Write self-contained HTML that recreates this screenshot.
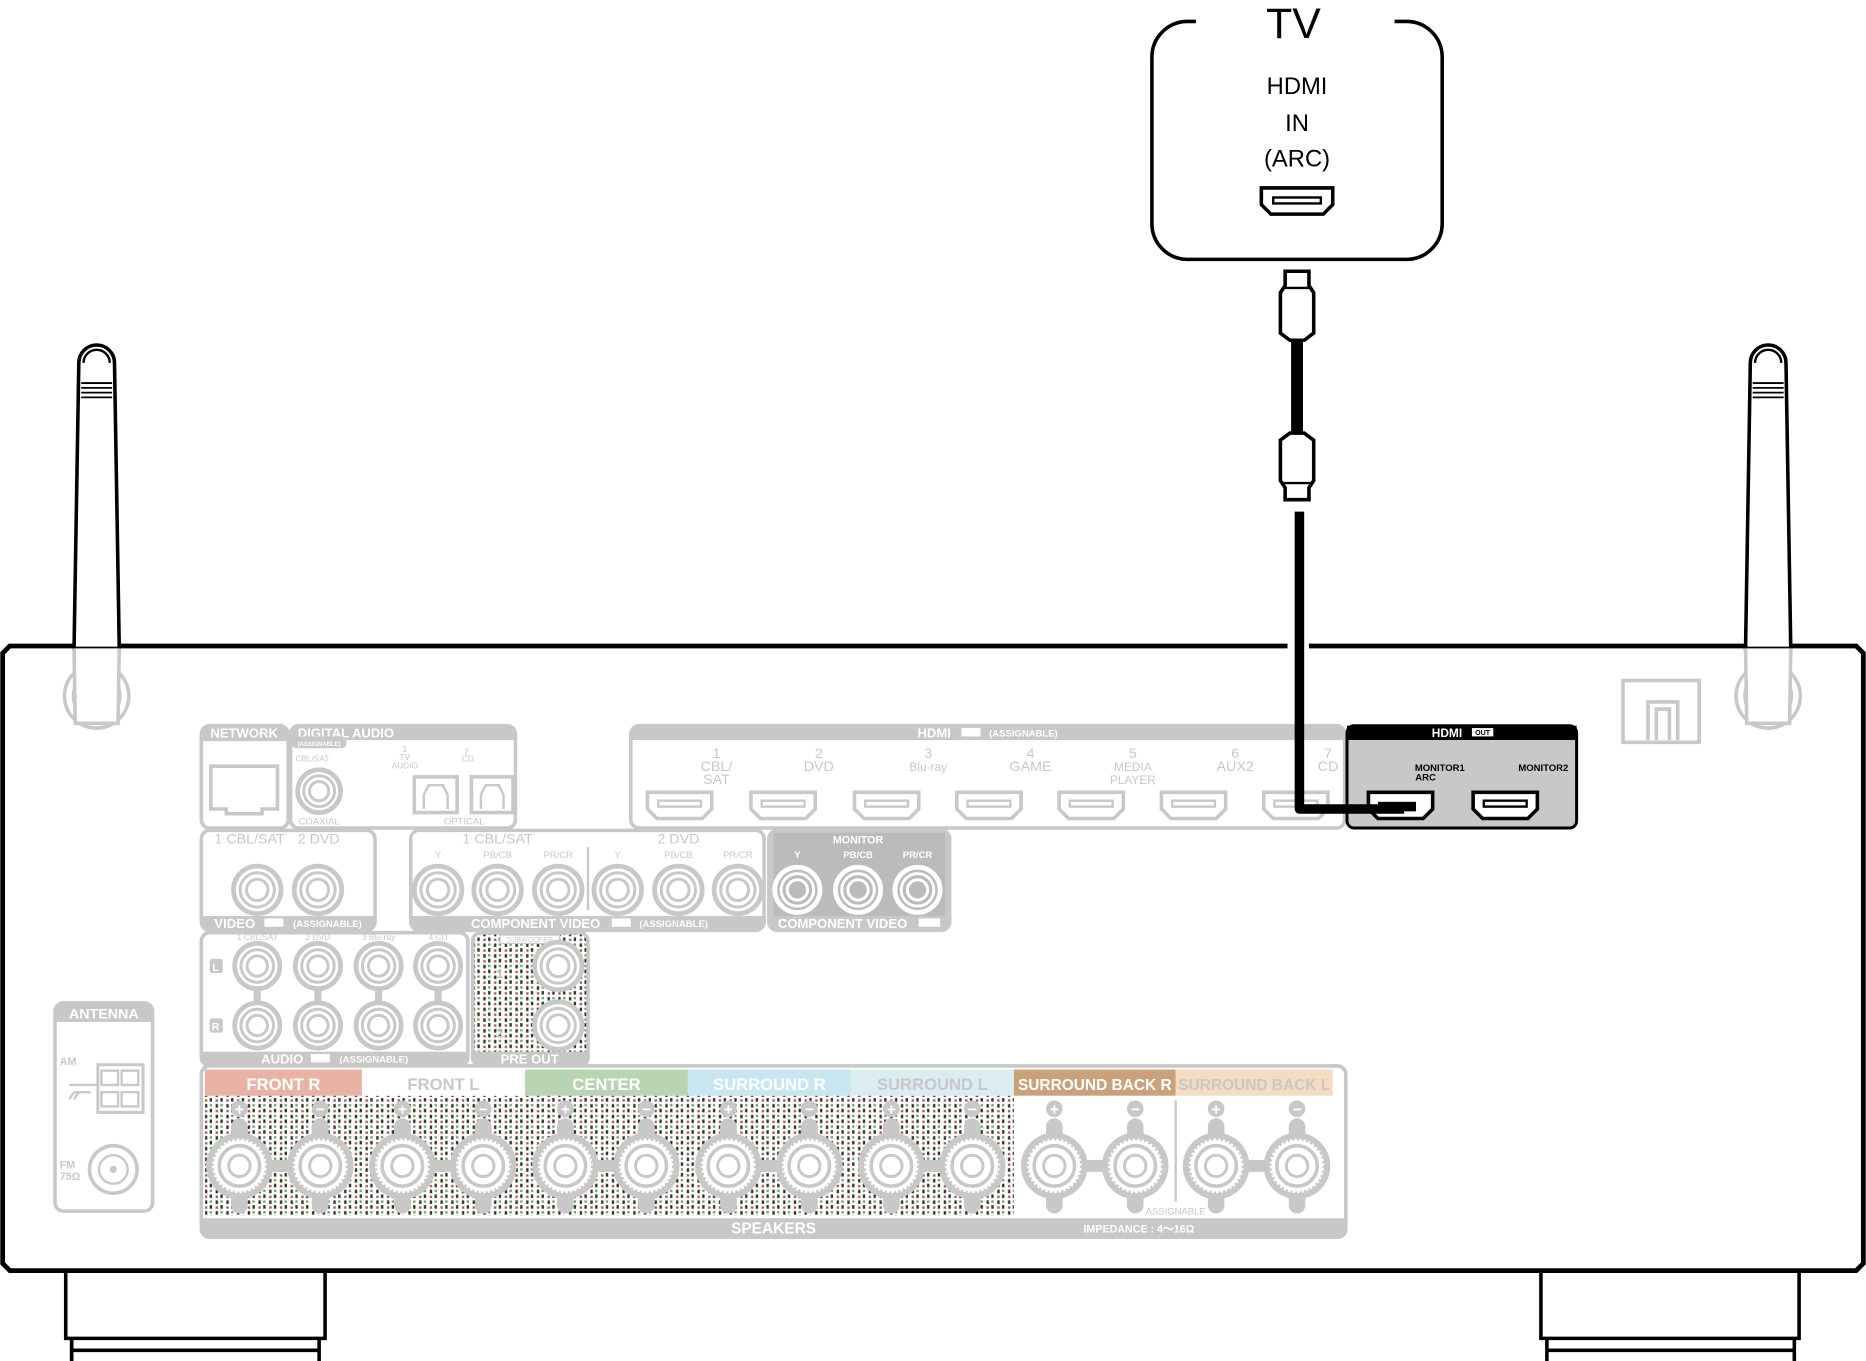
<!DOCTYPE html>
<html><head><meta charset="utf-8"><style>
html,body{margin:0;padding:0;background:#fff}
svg{display:block}
text{font-family:"Liberation Sans",sans-serif}
</style></head><body>
<svg id="s" width="1866" height="1361" viewBox="0 0 1568 1144" xmlns="http://www.w3.org/2000/svg">
<defs>
<pattern id="dots" width="9" height="9" patternUnits="userSpaceOnUse">
<rect width="9" height="9" fill="#fff"/>
<rect x="1" y="1" width="2" height="3" fill="#333"/>
<rect x="5" y="1" width="2" height="2" fill="#6a5"/>
<rect x="5" y="5" width="2" height="3" fill="#333"/>
<rect x="1" y="6" width="2" height="2" fill="#a55"/>
</pattern>
</defs>
<!-- TV -->
<path d="M1005,18 H998 A30,30 0 0 0 968,48 V188 A30,30 0 0 0 998,218 H1182 A30,30 0 0 0 1212,188 V48 A30,30 0 0 0 1182,18 H1172" fill="none" stroke="#000" stroke-width="3"/>
<text x="1087" y="32" font-size="36" text-anchor="middle">TV</text>
<text x="1090" y="79" font-size="20" text-anchor="middle">HDMI</text>
<text x="1090" y="110" font-size="20" text-anchor="middle">IN</text>
<text x="1090" y="140" font-size="20" text-anchor="middle">(ARC)</text>
<path d="M1060,158 H1120 V172 L1112,180 H1068 L1060,172 Z" fill="none" stroke="#000" stroke-width="3"/>
<rect x="1070" y="166" width="40" height="5" fill="none" stroke="#000" stroke-width="2"/>
<!-- cable -->
<path d="M1080,228 H1100 V240 L1104,246 V280 L1096,286 H1084 L1076,280 V246 L1080,240 Z" fill="#fff" stroke="#000" stroke-width="3"/>
<line x1="1078" y1="242" x2="1102" y2="242" stroke="#000" stroke-width="2"/>
<rect x="1085" y="286" width="10" height="80" fill="#000"/>
<path d="M1084,364 H1096 L1104,370 V404 L1100,410 V420 H1080 V410 L1076,404 V370 Z" fill="#fff" stroke="#000" stroke-width="3"/>
<line x1="1078" y1="406" x2="1102" y2="406" stroke="#000" stroke-width="2"/>
<!-- receiver body -->
<path d="M1082,543 H8 L2,549 V1062 L8,1068 H1560 L1566,1062 V549 L1560,543 H1100" fill="none" stroke="#000" stroke-width="4"/>
<path d="M55,1068 V1125 H60 V1144 M55,1125 H273 V1068 M60,1135 H268" fill="none" stroke="#000" stroke-width="3"/>
<path d="M1295,1068 V1125 H1512 V1068 M1300,1135 H1508 M1300,1125 V1144 M1508,1125 V1144" fill="none" stroke="#000" stroke-width="3"/>
<path d="M60,1125 V1144 M268,1125 V1144" stroke="#000" stroke-width="3"/>
<!-- antennas -->
<g id="ant">
<circle cx="81" cy="585" r="27" fill="none" stroke="#c8c8c8" stroke-width="3"/>
<circle cx="81" cy="585" r="20" fill="none" stroke="#c8c8c8" stroke-width="2"/>
<path d="M66,305 A15,15 0 0 1 96,305 L100,545 H62 Z" fill="#fff" stroke="#000" stroke-width="3"/>
<path d="M62,545 L63,608 H99 L100,545" fill="#fff" stroke="#c8c8c8" stroke-width="3"/>
<path d="M70,305 A11,11 0 0 1 92,305" fill="none" stroke="#000" stroke-width="2"/>
<g stroke="#000" stroke-width="1.5"><line x1="68" y1="322" x2="94" y2="322"/><line x1="68" y1="326" x2="94" y2="326"/><line x1="68" y1="330" x2="94" y2="330"/><line x1="68" y1="334" x2="94" y2="334"/></g>
</g>
<use href="#ant" transform="translate(1405,0)"/>
<rect x="1364" y="572" width="64" height="52" fill="none" stroke="#c8c8c8" stroke-width="3"/>
<path d="M1385,622 V590 H1410 V622 M1392,622 V596 H1403 V622" fill="none" stroke="#c8c8c8" stroke-width="3"/>
<g id="gen"></g>
<!-- HDMI out panel -->
<rect x="1132" y="610" width="193" height="86" rx="6" fill="#c8c8c8" stroke="#000" stroke-width="2.5"/>
<rect x="1132" y="610" width="193" height="12" fill="#000"/>
<text x="1216" y="619.5" font-size="10" font-weight="bold" fill="#fff" text-anchor="middle">HDMI</text>
<rect x="1237" y="612" width="18" height="7" fill="#fff"/><text x="1246" y="618" font-size="6" text-anchor="middle" font-weight="bold">OUT</text>
<text x="1210" y="648" font-size="8" font-weight="bold" text-anchor="middle">MONITOR1</text>
<text x="1198" y="656" font-size="8" font-weight="bold" text-anchor="middle">ARC</text>
<text x="1297" y="648" font-size="8" font-weight="bold" text-anchor="middle">MONITOR2</text>
<g fill="#fff" stroke="#000" stroke-width="3">
<path d="M1150,666 H1204 V680 L1196,688 H1158 L1150,680 Z"/>
<path d="M1238,666 H1292 V680 L1284,688 H1246 L1238,680 Z"/>
</g>
<rect x="1247" y="673" width="36" height="5" fill="none" stroke="#000" stroke-width="2"/>
<!-- cable into port -->
<path d="M1092,430 V680 H1180" fill="none" stroke="#000" stroke-width="8" stroke-linejoin="round"/>
<rect x="1158" y="674" width="32" height="8" fill="#000"/>
</svg>
<script>
const NS="http://www.w3.org/2000/svg";
const G="#c8c8c8";
const gen=document.getElementById('gen');
function el(t,a,p){const e=document.createElementNS(NS,t);for(const k in a)e.setAttribute(k,a[k]);(p||gen).appendChild(e);return e;}
function txt(x,y,s,sz,fill,anchor,bold){const e=el('text',{x:x,y:y,'font-size':sz,fill:fill||G,'text-anchor':anchor||'middle','font-weight':bold===false?'normal':'bold'});e.textContent=s;return e;}
function box(x,y,w,h,fill){el('rect',{x:x,y:y,width:w,height:h,rx:7,fill:fill||'#fff',stroke:G,'stroke-width':3});}
function rca(cx,cy,r,col,bg){col=col||G;bg=bg||'#fff';[r,r*0.72,r*0.45].forEach((rr,i)=>el('circle',{cx:cx,cy:cy,r:rr,fill:i==0?bg:'none',stroke:col,'stroke-width':i==0?4:2.5}));}
function hdmi(cx,cy){el('path',{d:`M${cx-27},${cy-10} H${cx+27} V${cy+4} L${cx+19},${cy+12} H${cx-19} L${cx-27},${cy+4} Z`,fill:'#fff',stroke:G,'stroke-width':3});el('rect',{x:cx-18,y:cy-3,width:36,height:5,fill:'none',stroke:G,'stroke-width':2});}
// NETWORK
box(169,610,73,86);el('rect',{x:170,y:611,width:71,height:12,fill:G});txt(205,620,'NETWORK',11,'#fff');
el('path',{d:'M177,644 H233 V680 H220 V684 H190 V680 H177 Z',fill:'none',stroke:G,'stroke-width':3});
// DIGITAL AUDIO
box(244,610,189,86);el('rect',{x:245,y:611,width:187,height:11,fill:G});txt(250,620,'DIGITAL AUDIO',11,'#fff','start');
el('rect',{x:245,y:619,width:46,height:10,rx:4,fill:G});txt(268,627,'(ASSIGNABLE)',5,'#fff');
txt(248,640,'CBL/SAT',7,G,'start',false);rca(268,665,18);txt(268,693,'COAXIAL',8,G,'middle',false);
txt(340,632,'1',7,G,'middle',false);txt(340,639,'TV',7,G,'middle',false);txt(340,646,'AUDIO',7,G,'middle',false);
txt(392,634,'2',7,G,'middle',false);txt(393,640,'CD',7,G,'middle',false);
[[348,384],[396,431]].forEach(([a,b])=>{el('rect',{x:a,y:653,width:b-a,height:30,fill:'#fff',stroke:G,'stroke-width':3});el('path',{d:`M${a+8},680 V668 L${a+12},660 H${b-12} L${b-8},668 V680`,fill:'none',stroke:G,'stroke-width':2});});
txt(390,693,'OPTICAL',8,G,'middle',false);
// HDMI IN
box(530,610,600,86);el('rect',{x:531,y:611,width:598,height:11,fill:G});
txt(785,620,'HDMI',11,'#fff');el('rect',{x:808,y:612,width:16,height:7,fill:'#fff'});txt(860,619,'(ASSIGNABLE)',8,'#fff');
const hx=[571,658,745,831,917,1003,1089];
const hl=[['1','CBL/','SAT'],['2','DVD'],['3','Blu-ray'],['4','GAME'],['5','MEDIA','PLAYER'],['6','AUX2'],['7','CD']];
hx.forEach((x,i)=>{hdmi(x,676);const lx=i==0?602:(i==6?1116:x+(i==1?30:35));hl[i].forEach((s,j)=>txt(lx,637+j*11,s,j==0?12:(s.length>4?10:12),G,'middle',false));});
// VIDEO
box(169,698,146,84);txt(180,709,'1 CBL/SAT',12,G,'start',false);txt(250,709,'2 DVD',12,G,'start',false);
rca(216,748,20);rca(267,748,20);el('rect',{x:170,y:770,width:144,height:11,fill:G});txt(180,780,'VIDEO',11,'#fff','start');txt(275,779,'(ASSIGNABLE)',8,'#fff');el('rect',{x:222,y:772,width:16,height:7,fill:'#fff'});
// COMPONENT IN
box(345,698,297,84);txt(418,709,'1 CBL/SAT',12,G,'middle',false);txt(570,709,'2 DVD',12,G,'middle',false);
el('line',{x1:494,y1:712,x2:494,y2:765,stroke:G,'stroke-width':2});
const cl=['Y','PB/CB','PR/CR'];
[368,418,469,519,570,620].forEach((x,i)=>{rca(x,748,20);txt(x,721,cl[i%3],8,G,'middle',false);});
el('rect',{x:346,y:770,width:295,height:11,fill:G});txt(450,780,'COMPONENT VIDEO',11,'#fff');txt(566,779,'(ASSIGNABLE)',8,'#fff');el('rect',{x:514,y:772,width:16,height:7,fill:'#fff'});
// COMPONENT OUT
box(646,698,152,84,G);el('rect',{x:650,y:700,width:144,height:70,fill:'#bbb'});
txt(721,709,'MONITOR',9,'#fff');[670,721,771].forEach((x,i)=>{rca(x,748,19,'#fff','#bbb');txt(x,721,cl[i],8,'#fff');});
txt(708,780,'COMPONENT VIDEO',11,'#fff');el('rect',{x:772,y:772,width:18,height:7,fill:'#fff'});
// AUDIO
box(169,784,224,112);[['1 CBL/SAT',216],['2 DVD',267],['3 Blu-ray',318],['4 CD',368]].forEach(([s,x])=>{txt(x,790,s,7,G,'middle',false);el('rect',{x:x-3,y:812,width:6,height:50,fill:G});rca(x,812,19);rca(x,862,19);});
el('rect',{x:176,y:806,width:11,height:12,rx:2,fill:G});txt(181,816,'L',9,'#fff');el('rect',{x:176,y:856,width:11,height:12,rx:2,fill:G});txt(181,866,'R',9,'#fff');
el('rect',{x:170,y:884,width:222,height:11,fill:G});txt(237,894,'AUDIO',11,'#fff');el('rect',{x:261,y:886,width:16,height:7,fill:'#fff'});txt(314,893,'(ASSIGNABLE)',8,'#fff');
// PRE OUT
el('rect',{x:397,y:784,width:97,height:112,rx:7,fill:'url(#dots)',stroke:G,'stroke-width':3});
el('rect',{x:420,y:786,width:50,height:7,fill:'#fff',stroke:G,'stroke-width':1});txt(445,792,'SUBWOOFER',6,G,'middle',false);
rca(469,812,20);rca(469,862,20);txt(420,822,'1',11);txt(420,872,'2',11);
el('rect',{x:398,y:884,width:95,height:11,fill:G});txt(445,894,'PRE OUT',11,'#fff');
// ANTENNA
box(46,843,82,175);el('rect',{x:47,y:844,width:80,height:15,fill:G});txt(87,856,'ANTENNA',12,'#fff');
txt(50,895,'AM',9,G,'start');el('rect',{x:82,y:895,width:38,height:40,fill:'#fff',stroke:G,'stroke-width':2.5});
el('rect',{x:85,y:900,width:14,height:12,fill:'none',stroke:G,'stroke-width':2});el('rect',{x:102,y:900,width:14,height:12,fill:'none',stroke:G,'stroke-width':2});
el('rect',{x:85,y:918,width:14,height:12,fill:'none',stroke:G,'stroke-width':2});el('rect',{x:102,y:918,width:14,height:12,fill:'none',stroke:G,'stroke-width':2});
el('path',{d:'M58,912 H82 M62,918 H76 M58,924 L62,918 M62,924 L66,918',stroke:G,'stroke-width':2,fill:'none'});
txt(50,982,'FM',9,G,'start');txt(50,992,'75Ω',9,G,'start');
el('circle',{cx:95,cy:983,r:20,fill:'none',stroke:G,'stroke-width':3});el('circle',{cx:95,cy:983,r:12,fill:'none',stroke:G,'stroke-width':2});el('circle',{cx:95,cy:983,r:3,fill:G});
// SPEAKERS
box(169,896,962,144);
el('rect',{x:172,y:921,width:680,height:101,fill:'url(#dots)'});
const hd=[[172,304,'#e9b3a3','#fff','FRONT R'],[304,441,'#fff',G,'FRONT L'],[441,578,'#b9d4b3','#fff','CENTER'],[578,715,'#c7e6f0','#fff','SURROUND R'],[715,852,'#dcedf2',G,'SURROUND L'],[852,988,'#c9a27b','#fff','SURROUND BACK R'],[988,1120,'#f5dcc0',G,'SURROUND BACK L']];
hd.forEach(([a,b,c,f,s])=>{el('rect',{x:a,y:899,width:b-a,height:22,fill:c});txt((a+b)/2,916,s,s.length>12?13:14,f,'middle',true);});
el('line',{x1:988,y1:925,x2:988,y2:1010,stroke:G,'stroke-width':2});
[[201,269],[338,406],[475,543],[612,680],[749,817],[886,954],[1022,1090]].forEach(([a,b])=>{
 el('rect',{x:a,y:975,width:b-a,height:10,fill:G});
 [a,b].forEach((x,k)=>{el('rect',{x:x-7,y:940,width:14,height:80,rx:7,fill:G});
 el('circle',{cx:x,cy:932,r:7,fill:G});txt(x,937,k==0?'+':'−',13,'#fff');
 el('circle',{cx:x,cy:980,r:28,fill:G});el('circle',{cx:x,cy:980,r:23,fill:'#fff',stroke:G,'stroke-width':3,'stroke-dasharray':'2 2'});
 el('circle',{cx:x,cy:980,r:17,fill:'#fff',stroke:G,'stroke-width':3});el('circle',{cx:x,cy:980,r:9,fill:'none',stroke:G,'stroke-width':2.5});});
});
txt(988,1021,'ASSIGNABLE',8,G,'middle',false);
el('rect',{x:170,y:1024,width:960,height:15,fill:G});txt(650,1037,'SPEAKERS',13,'#fff');txt(957,1036,'IMPEDANCE : 4～16Ω',9,'#fff');
</script>
</body></html>
